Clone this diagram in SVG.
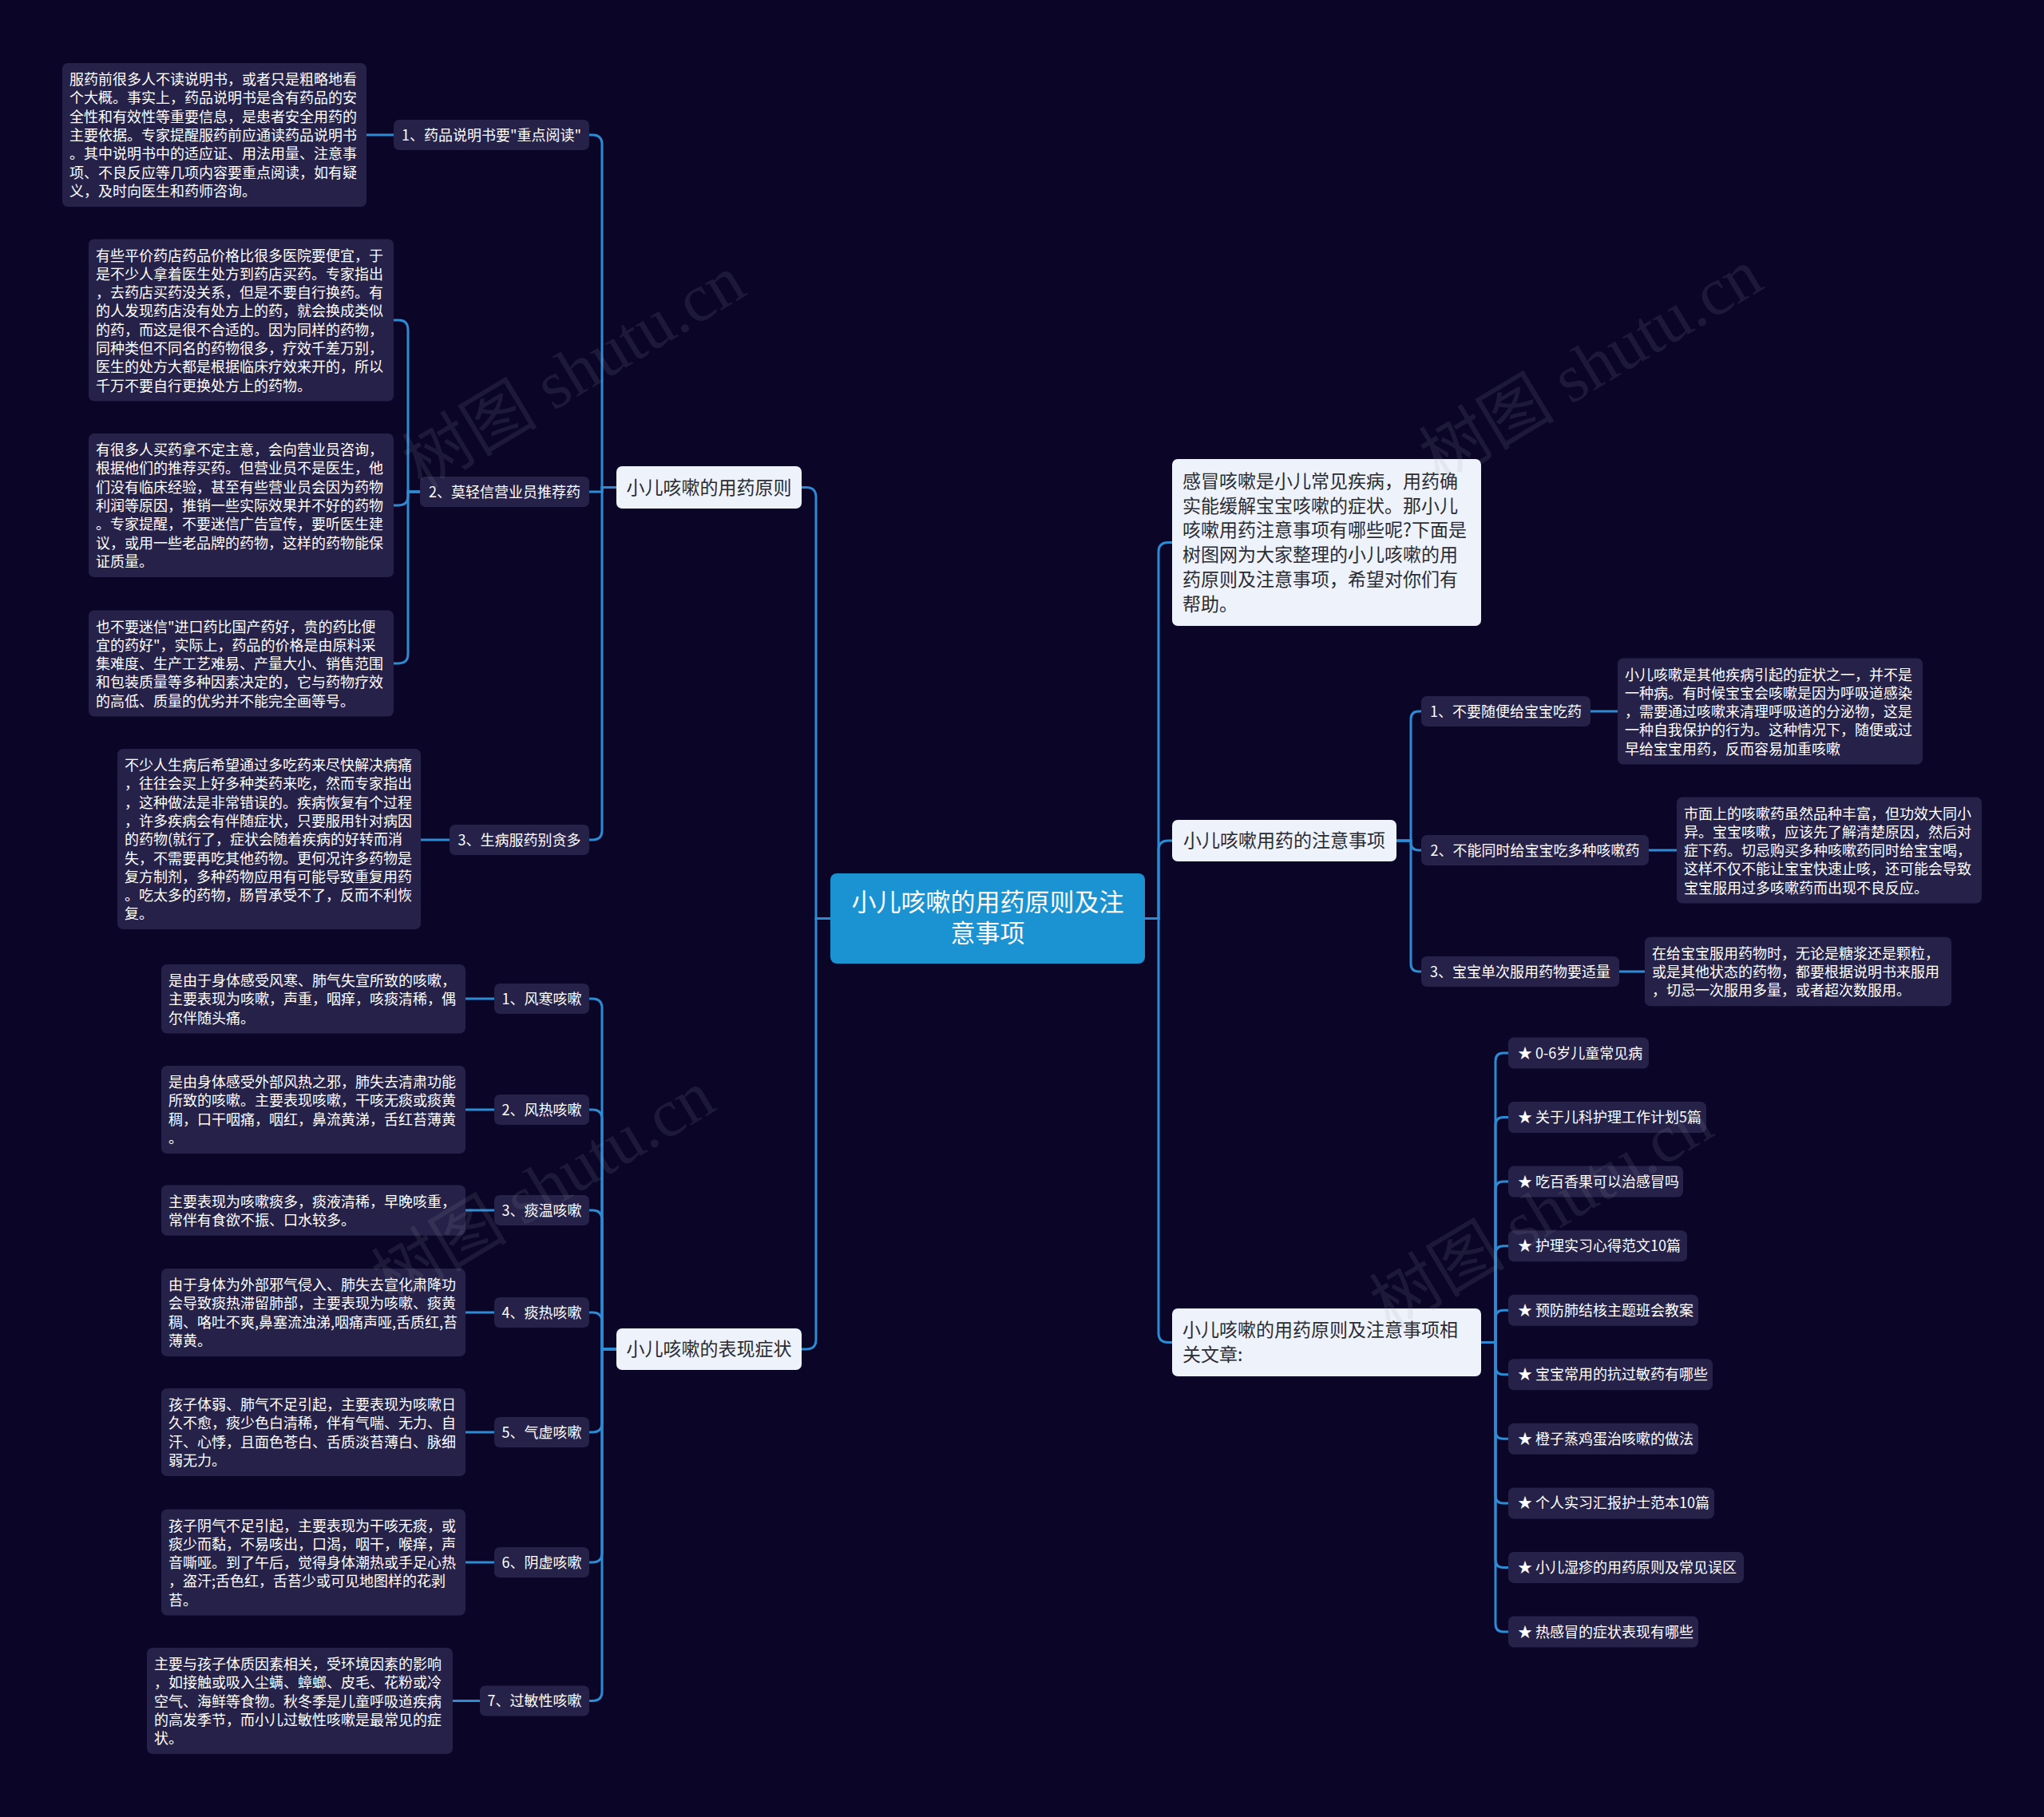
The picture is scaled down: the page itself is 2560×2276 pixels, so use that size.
<svg xmlns="http://www.w3.org/2000/svg" width="2560" height="2276" viewBox="0 0 2560 2276">
<style>
text{font-family:"Noto Sans CJK SC","Noto Sans",sans-serif;}
.bg{fill:#0b0628;}
.dk{fill:#252149;}
.lt{fill:#eef3fb;}
.ctr{fill:#1b92d1;}
.tw{fill:#ffffff;font-size:18px;}
.tn{fill:#ffffff;font-size:18px;text-anchor:middle;}
.tp{fill:#2b2b33;font-size:23px;}
.tpc{fill:#2b2b33;font-size:23px;text-anchor:middle;}
.tc{fill:#ffffff;font-size:31px;text-anchor:middle;}
.con path{fill:none;stroke:#2d8bd4;stroke-width:3;}
.wm{font-family:"Liberation Serif","Noto Sans CJK SC",serif;font-size:85px;fill:#9a9aaa;opacity:0.13;}
</style>
<rect class="bg" x="0" y="0" width="2560" height="2276"/>

<g id="connectors" class="con">
<path d="M1040 1150.5 H1022 V622.5 Q1022 610.5 1010 610.5 H1004"/>
<path d="M1040 1150.5 H1022 V1678 Q1022 1690 1010 1690 H1004"/>
<path d="M1434 1150.5 H1451 V691.5 Q1451 679.5 1463 679.5 H1468"/>
<path d="M1434 1150.5 H1451 V1065 Q1451 1053 1463 1053 H1468"/>
<path d="M1434 1150.5 H1451 V1669.5 Q1451 1681.5 1463 1681.5 H1468"/>
<path d="M772 610.5 H754 V181 Q754 169 742 169 H738"/>
<path d="M772 610.5 H754 V616 H738"/>
<path d="M772 610.5 H754 V1040 Q754 1052 742 1052 H738"/>
<path d="M493 169 H459"/>
<path d="M526 616 H511 V413 Q511 401 499 401 H493"/>
<path d="M526 616 H511 V621 Q511 633 499 633 H493"/>
<path d="M526 616 H511 V819 Q511 831 499 831 H493"/>
<path d="M563 1052 H527"/>
<path d="M772 1690 H754 V1263 Q754 1251 742 1251 H738"/>
<path d="M772 1690 H754 V1402 Q754 1390 742 1390 H738"/>
<path d="M772 1690 H754 V1528 Q754 1516 742 1516 H738"/>
<path d="M772 1690 H754 V1656 Q754 1644 742 1644 H738"/>
<path d="M772 1690 H754 V1782 Q754 1794 742 1794 H738"/>
<path d="M772 1690 H754 V1945 Q754 1957 742 1957 H738"/>
<path d="M772 1690 H754 V2118.5 Q754 2130.5 742 2130.5 H738"/>
<path d="M619 1251 H583"/>
<path d="M619 1390 H583"/>
<path d="M619 1516 H583"/>
<path d="M619 1644 H583"/>
<path d="M619 1794 H583"/>
<path d="M619 1957 H583"/>
<path d="M601 2130.5 H567"/>
<path d="M1749 1053 H1767 V901 Q1767 891 1777 891 H1780"/>
<path d="M1749 1053 H1767 V1055 Q1767 1065 1777 1065 H1780"/>
<path d="M1749 1053 H1767 V1207 Q1767 1217 1777 1217 H1780"/>
<path d="M1992 891 H2026"/>
<path d="M2065 1065 H2100"/>
<path d="M2028 1217 H2060"/>
<path d="M1855 1681.5 H1873 V1329 Q1873 1319 1883 1319 H1889"/>
<path d="M1855 1681.5 H1873 V1409.6 Q1873 1399.6 1883 1399.6 H1889"/>
<path d="M1855 1681.5 H1873 V1490.1 Q1873 1480.1 1883 1480.1 H1889"/>
<path d="M1855 1681.5 H1873 V1570.7 Q1873 1560.7 1883 1560.7 H1889"/>
<path d="M1855 1681.5 H1873 V1651.2 Q1873 1641.2 1883 1641.2 H1889"/>
<path d="M1855 1681.5 H1873 V1711.8 Q1873 1721.8 1883 1721.8 H1889"/>
<path d="M1855 1681.5 H1873 V1792.3 Q1873 1802.3 1883 1802.3 H1889"/>
<path d="M1855 1681.5 H1873 V1872.9 Q1873 1882.9 1883 1882.9 H1889"/>
<path d="M1855 1681.5 H1873 V1953.4 Q1873 1963.4 1883 1963.4 H1889"/>
<path d="M1855 1681.5 H1873 V2034 Q1873 2044 1883 2044 H1889"/>
</g>

<g id="center">
<rect class="ctr" x="1040" y="1094" width="394" height="113" rx="8"/>
<text class="tc" x="1237" y="1141">小儿咳嗽的用药原则及注</text>
<text class="tc" x="1237" y="1180">意事项</text>
</g>

<g id="p1"><rect class="lt" x="772" y="584" width="232" height="53" rx="7"/><text class="tpc" x="888" y="618.5">小儿咳嗽的用药原则</text></g>
<g id="p2"><rect class="lt" x="772" y="1664" width="232" height="52" rx="7"/><text class="tpc" x="888" y="1698">小儿咳嗽的表现症状</text></g>

<g id="intro"><rect class="lt" x="1468" y="575" width="387" height="209" rx="7"/>
<text class="tp" x="1481" y="611"><tspan x="1481" dy="0">感冒咳嗽是小儿常见疾病，用药确</tspan><tspan x="1481" dy="30.7">实能缓解宝宝咳嗽的症状。那小儿</tspan><tspan x="1481" dy="30.7">咳嗽用药注意事项有哪些呢?下面是</tspan><tspan x="1481" dy="30.7">树图网为大家整理的小儿咳嗽的用</tspan><tspan x="1481" dy="30.7">药原则及注意事项，希望对你们有</tspan><tspan x="1481" dy="30.7">帮助。</tspan></text></g>
<g id="q2"><rect class="lt" x="1468" y="1027" width="281" height="52" rx="7"/><text class="tpc" x="1608.5" y="1061">小儿咳嗽用药的注意事项</text></g>
<g id="q3"><rect class="lt" x="1468" y="1639" width="387" height="85" rx="7"/>
<text class="tp" x="1481" y="1673.5"><tspan x="1481" dy="0">小儿咳嗽的用药原则及注意事项相</tspan><tspan x="1481" dy="31">关文章:</tspan></text></g>

<g id="n1"><rect class="dk" x="493" y="150" width="245" height="38" rx="7"/><text class="tn" x="615.5" y="175.5">1、药品说明书要"重点阅读"</text></g>
<g id="l1"><rect class="dk" x="78" y="79" width="381" height="180" rx="7"/>
<text class="tw" x="87" y="106"><tspan x="87" dy="0">服药前很多人不读说明书，或者只是粗略地看</tspan><tspan x="87" dy="23.3">个大概。事实上，药品说明书是含有药品的安</tspan><tspan x="87" dy="23.3">全性和有效性等重要信息，是患者安全用药的</tspan><tspan x="87" dy="23.3">主要依据。专家提醒服药前应通读药品说明书</tspan><tspan x="87" dy="23.3">。其中说明书中的适应证、用法用量、注意事</tspan><tspan x="87" dy="23.3">项、不良反应等几项内容要重点阅读，如有疑</tspan><tspan x="87" dy="23.3">义，及时向医生和药师咨询。</tspan></text></g>

<g id="n2"><rect class="dk" x="526" y="597" width="212" height="38" rx="7"/><text class="tn" x="632" y="622.5">2、莫轻信营业员推荐药</text></g>
<g id="la"><rect class="dk" x="111" y="299.5" width="382" height="203" rx="7"/>
<text class="tw" x="120" y="326.5"><tspan x="120" dy="0">有些平价药店药品价格比很多医院要便宜，于</tspan><tspan x="120" dy="23.3">是不少人拿着医生处方到药店买药。专家指出</tspan><tspan x="120" dy="23.3">，去药店买药没关系，但是不要自行换药。有</tspan><tspan x="120" dy="23.3">的人发现药店没有处方上的药，就会换成类似</tspan><tspan x="120" dy="23.3">的药，而这是很不合适的。因为同样的药物，</tspan><tspan x="120" dy="23.3">同种类但不同名的药物很多，疗效千差万别，</tspan><tspan x="120" dy="23.3">医生的处方大都是根据临床疗效来开的，所以</tspan><tspan x="120" dy="23.3">千万不要自行更换处方上的药物。</tspan></text></g>
<g id="lb"><rect class="dk" x="111" y="543" width="382" height="180" rx="7"/>
<text class="tw" x="120" y="570"><tspan x="120" dy="0">有很多人买药拿不定主意，会向营业员咨询，</tspan><tspan x="120" dy="23.3">根据他们的推荐买药。但营业员不是医生，他</tspan><tspan x="120" dy="23.3">们没有临床经验，甚至有些营业员会因为药物</tspan><tspan x="120" dy="23.3">利润等原因，推销一些实际效果并不好的药物</tspan><tspan x="120" dy="23.3">。专家提醒，不要迷信广告宣传，要听医生建</tspan><tspan x="120" dy="23.3">议，或用一些老品牌的药物，这样的药物能保</tspan><tspan x="120" dy="23.3">证质量。</tspan></text></g>
<g id="lc"><rect class="dk" x="111" y="764.5" width="382" height="133" rx="7"/>
<text class="tw" x="120" y="791.5"><tspan x="120" dy="0">也不要迷信"进口药比国产药好，贵的药比便</tspan><tspan x="120" dy="23.3">宜的药好"，实际上，药品的价格是由原料采</tspan><tspan x="120" dy="23.3">集难度、生产工艺难易、产量大小、销售范围</tspan><tspan x="120" dy="23.3">和包装质量等多种因素决定的，它与药物疗效</tspan><tspan x="120" dy="23.3">的高低、质量的优劣并不能完全画等号。</tspan></text></g>

<g id="n3"><rect class="dk" x="563" y="1033" width="175" height="38" rx="7"/><text class="tn" x="650.5" y="1058.5">3、生病服药别贪多</text></g>
<g id="l3"><rect class="dk" x="147" y="938" width="380" height="226" rx="7"/>
<text class="tw" x="156" y="965"><tspan x="156" dy="0">不少人生病后希望通过多吃药来尽快解决病痛</tspan><tspan x="156" dy="23.3">，往往会买上好多种类药来吃，然而专家指出</tspan><tspan x="156" dy="23.3">，这种做法是非常错误的。疾病恢复有个过程</tspan><tspan x="156" dy="23.3">，许多疾病会有伴随症状，只要服用针对病因</tspan><tspan x="156" dy="23.3">的药物(就行了，症状会随着疾病的好转而消</tspan><tspan x="156" dy="23.3">失，不需要再吃其他药物。更何况许多药物是</tspan><tspan x="156" dy="23.3">复方制剂，多种药物应用有可能导致重复用药</tspan><tspan x="156" dy="23.3">。吃太多的药物，肠胃承受不了，反而不利恢</tspan><tspan x="156" dy="23.3">复。</tspan></text></g>

<g id="s1n"><rect class="dk" x="619" y="1232" width="119" height="38" rx="7"/><text class="tn" x="678.5" y="1257.5">1、风寒咳嗽</text></g>
<g id="s1"><rect class="dk" x="202" y="1208" width="381" height="86.6" rx="7"/>
<text class="tw" x="211" y="1235"><tspan x="211" dy="0">是由于身体感受风寒、肺气失宣所致的咳嗽，</tspan><tspan x="211" dy="23.3">主要表现为咳嗽，声重，咽痒，咳痰清稀，偶</tspan><tspan x="211" dy="23.3">尔伴随头痛。</tspan></text></g>
<g id="s2n"><rect class="dk" x="619" y="1371" width="119" height="38" rx="7"/><text class="tn" x="678.5" y="1396.5">2、风热咳嗽</text></g>
<g id="s2"><rect class="dk" x="202" y="1335" width="381" height="110" rx="7"/>
<text class="tw" x="211" y="1362"><tspan x="211" dy="0">是由身体感受外部风热之邪，肺失去清肃功能</tspan><tspan x="211" dy="23.3">所致的咳嗽。主要表现咳嗽，干咳无痰或痰黄</tspan><tspan x="211" dy="23.3">稠，口干咽痛，咽红，鼻流黄涕，舌红苔薄黄</tspan><tspan x="211" dy="23.3">。</tspan></text></g>
<g id="s3n"><rect class="dk" x="619" y="1497" width="119" height="38" rx="7"/><text class="tn" x="678.5" y="1522.5">3、痰温咳嗽</text></g>
<g id="s3"><rect class="dk" x="202" y="1484.5" width="381" height="63.3" rx="7"/>
<text class="tw" x="211" y="1511.5"><tspan x="211" dy="0">主要表现为咳嗽痰多，痰液清稀，早晚咳重，</tspan><tspan x="211" dy="23.3">常伴有食欲不振、口水较多。</tspan></text></g>
<g id="s4n"><rect class="dk" x="619" y="1625" width="119" height="38" rx="7"/><text class="tn" x="678.5" y="1650.5">4、痰热咳嗽</text></g>
<g id="s4"><rect class="dk" x="202" y="1589" width="381" height="110" rx="7"/>
<text class="tw" x="211" y="1616"><tspan x="211" dy="0">由于身体为外部邪气侵入、肺失去宣化肃降功</tspan><tspan x="211" dy="23.3">会导致痰热滞留肺部，主要表现为咳嗽、痰黄</tspan><tspan x="211" dy="23.3">稠、咯吐不爽,鼻塞流浊涕,咽痛声哑,舌质红,苔</tspan><tspan x="211" dy="23.3">薄黄。</tspan></text></g>
<g id="s5n"><rect class="dk" x="619" y="1775" width="119" height="38" rx="7"/><text class="tn" x="678.5" y="1800.5">5、气虚咳嗽</text></g>
<g id="s5"><rect class="dk" x="202" y="1739" width="381" height="110" rx="7"/>
<text class="tw" x="211" y="1766"><tspan x="211" dy="0">孩子体弱、肺气不足引起，主要表现为咳嗽日</tspan><tspan x="211" dy="23.3">久不愈，痰少色白清稀，伴有气喘、无力、自</tspan><tspan x="211" dy="23.3">汗、心悸，且面色苍白、舌质淡苔薄白、脉细</tspan><tspan x="211" dy="23.3">弱无力。</tspan></text></g>
<g id="s6n"><rect class="dk" x="619" y="1938" width="119" height="38" rx="7"/><text class="tn" x="678.5" y="1963.5">6、阴虚咳嗽</text></g>
<g id="s6"><rect class="dk" x="202" y="1890.5" width="381" height="133" rx="7"/>
<text class="tw" x="211" y="1917.5"><tspan x="211" dy="0">孩子阴气不足引起，主要表现为干咳无痰，或</tspan><tspan x="211" dy="23.3">痰少而黏，不易咳出，口渴，咽干，喉痒，声</tspan><tspan x="211" dy="23.3">音嘶哑。到了午后，觉得身体潮热或手足心热</tspan><tspan x="211" dy="23.3">，盗汗;舌色红，舌苔少或可见地图样的花剥</tspan><tspan x="211" dy="23.3">苔。</tspan></text></g>
<g id="s7n"><rect class="dk" x="601" y="2111.5" width="137" height="38" rx="7"/><text class="tn" x="669.5" y="2137">7、过敏性咳嗽</text></g>
<g id="s7"><rect class="dk" x="184" y="2064" width="383" height="133" rx="7"/>
<text class="tw" x="193" y="2091"><tspan x="193" dy="0">主要与孩子体质因素相关，受环境因素的影响</tspan><tspan x="193" dy="23.3">，如接触或吸入尘螨、蟑螂、皮毛、花粉或冷</tspan><tspan x="193" dy="23.3">空气、海鲜等食物。秋冬季是儿童呼吸道疾病</tspan><tspan x="193" dy="23.3">的高发季节，而小儿过敏性咳嗽是最常见的症</tspan><tspan x="193" dy="23.3">状。</tspan></text></g>

<g id="r1n"><rect class="dk" x="1780" y="872" width="212" height="38" rx="7"/><text class="tn" x="1886" y="897.5">1、不要随便给宝宝吃药</text></g>
<g id="r1"><rect class="dk" x="2026" y="824.5" width="382" height="133" rx="7"/>
<text class="tw" x="2035" y="851.5"><tspan x="2035" dy="0">小儿咳嗽是其他疾病引起的症状之一，并不是</tspan><tspan x="2035" dy="23.3">一种病。有时候宝宝会咳嗽是因为呼吸道感染</tspan><tspan x="2035" dy="23.3">，需要通过咳嗽来清理呼吸道的分泌物，这是</tspan><tspan x="2035" dy="23.3">一种自我保护的行为。这种情况下，随便或过</tspan><tspan x="2035" dy="23.3">早给宝宝用药，反而容易加重咳嗽</tspan></text></g>
<g id="r2n"><rect class="dk" x="1780" y="1046" width="285" height="38" rx="7"/><text class="tn" x="1922.5" y="1071.5">2、不能同时给宝宝吃多种咳嗽药</text></g>
<g id="r2"><rect class="dk" x="2100" y="998.5" width="382" height="133" rx="7"/>
<text class="tw" x="2109" y="1025.5"><tspan x="2109" dy="0">市面上的咳嗽药虽然品种丰富，但功效大同小</tspan><tspan x="2109" dy="23.3">异。宝宝咳嗽，应该先了解清楚原因，然后对</tspan><tspan x="2109" dy="23.3">症下药。切忌购买多种咳嗽药同时给宝宝喝，</tspan><tspan x="2109" dy="23.3">这样不仅不能让宝宝快速止咳，还可能会导致</tspan><tspan x="2109" dy="23.3">宝宝服用过多咳嗽药而出现不良反应。</tspan></text></g>
<g id="r3n"><rect class="dk" x="1780" y="1198" width="248" height="38" rx="7"/><text class="tn" x="1904" y="1223.5">3、宝宝单次服用药物要适量</text></g>
<g id="r3"><rect class="dk" x="2060" y="1173.7" width="384" height="86.6" rx="7"/>
<text class="tw" x="2069" y="1200.7"><tspan x="2069" dy="0">在给宝宝服用药物时，无论是糖浆还是颗粒，</tspan><tspan x="2069" dy="23.3">或是其他状态的药物，都要根据说明书来服用</tspan><tspan x="2069" dy="23.3">，切忌一次服用多量，或者超次数服用。</tspan></text></g>

<g id="a1"><rect class="dk" x="1889" y="1299.5" width="176" height="39" rx="7"/><text class="tw" x="1901" y="1325.5">★ 0-6岁儿童常见病</text></g>
<g id="a2"><rect class="dk" x="1889" y="1380.1" width="248" height="39" rx="7"/><text class="tw" x="1901" y="1406.1">★ 关于儿科护理工作计划5篇</text></g>
<g id="a3"><rect class="dk" x="1889" y="1460.6" width="219" height="39" rx="7"/><text class="tw" x="1901" y="1486.6">★ 吃百香果可以治感冒吗</text></g>
<g id="a4"><rect class="dk" x="1889" y="1541.2" width="224" height="39" rx="7"/><text class="tw" x="1901" y="1567.2">★ 护理实习心得范文10篇</text></g>
<g id="a5"><rect class="dk" x="1889" y="1621.7" width="238" height="39" rx="7"/><text class="tw" x="1901" y="1647.7">★ 预防肺结核主题班会教案</text></g>
<g id="a6"><rect class="dk" x="1889" y="1702.3" width="256" height="39" rx="7"/><text class="tw" x="1901" y="1728.3">★ 宝宝常用的抗过敏药有哪些</text></g>
<g id="a7"><rect class="dk" x="1889" y="1782.8" width="238" height="39" rx="7"/><text class="tw" x="1901" y="1808.8">★ 橙子蒸鸡蛋治咳嗽的做法</text></g>
<g id="a8"><rect class="dk" x="1889" y="1863.4" width="258" height="39" rx="7"/><text class="tw" x="1901" y="1889.4">★ 个人实习汇报护士范本10篇</text></g>
<g id="a9"><rect class="dk" x="1889" y="1943.9" width="295" height="39" rx="7"/><text class="tw" x="1901" y="1969.9">★ 小儿湿疹的用药原则及常见误区</text></g>
<g id="a10"><rect class="dk" x="1889" y="2024.5" width="238" height="39" rx="7"/><text class="tw" x="1901" y="2050.5">★ 热感冒的症状表现有哪些</text></g>

<g id="watermarks">
<text class="wm" x="718" y="495" text-anchor="middle" transform="rotate(-31 718 465)">树图 shutu.cn</text>
<text class="wm" x="1992" y="487" text-anchor="middle" transform="rotate(-31 1992 457)">树图 shutu.cn</text>
<text class="wm" x="680" y="1516" text-anchor="middle" transform="rotate(-31 680 1486)">树图 shutu.cn</text>
<text class="wm" x="1930" y="1548" text-anchor="middle" transform="rotate(-31 1930 1518)">树图 shutu.cn</text>
</g>
</svg>
